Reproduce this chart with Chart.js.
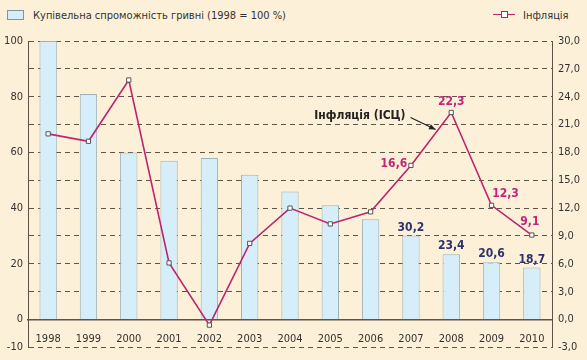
<!DOCTYPE html>
<html>
<head>
<meta charset="utf-8">
<script src="https://cdn.jsdelivr.net/npm/chart.js@4.4.1/dist/chart.umd.min.js"></script>
<style>
  body { margin: 0; background: #fdf0d8; }
  #wrap { position: relative; width: 587px; height: 360px; background: #fdf0d8; font-family: 'Liberation Sans Narrow', 'DejaVu Sans Condensed', sans-serif; color: #333; }
  .leg { position: absolute; top: 9px; font-size: 11px; line-height: 14px; white-space: nowrap; }
  .box { display: inline-block; width: 15px; height: 8px; background: #d5eef9; border: 1px solid #7d95a0; vertical-align: -1px; margin-right: 9px; }
  .ln { display: inline-block; position: relative; width: 22px; height: 1px; background: #c0246c; vertical-align: 4px; margin-right: 8px; }
  .ln i { position: absolute; left: 8px; top: -3px; width: 5px; height: 5px; background: #fff; border: 1px solid #555; }
  canvas { position: absolute; left: 0; top: 0; }
</style>
</head>
<body>
<div id="wrap">
  <div class="leg" style="left:7px"><span class="box"></span>Купівельна спроможність гривні (1998 = 100 %)</div>
  <div class="leg" style="left:493px"><span class="ln"><i></i></span>Інфляція</div>
  <canvas id="c" width="587" height="360"></canvas>
</div>
<script>
// data
const years = ['1998', '1999', '2000', '2001', '2002', '2003', '2004', '2005', '2006', '2007', '2008', '2009', '2010'];
const purchasingPower = [100, 81, 60, 57, 58, 52, 46, 41, 36, 30.2, 23.4, 20.6, 18.7];
const inflation = [20.0, 19.2, 25.8, 6.1, -0.6, 8.2, 12.0, 10.3, 11.6, 16.6, 22.3, 12.3, 9.1];
const labelledFrom = 9; // values printed for 2007-2010
const leftTicks = [-10, 0, 20, 40, 60, 80, 100];

const FONT = "'Liberation Sans Narrow', 'DejaVu Sans Condensed', sans-serif";
const comma = v => v.toFixed(1).replace('.', ',');

// label offsets for the inflation values (dx, dy from the point)
const inflOffsets = [[-17, -2], [0, -11], [14, -11], [-2, -13]];

const valueLabels = {
  id: 'valueLabels',
  afterDatasetsDraw(chart) {
    const c = chart.ctx;
    const lineMeta = chart.getDatasetMeta(0);
    const barMeta = chart.getDatasetMeta(1);
    c.save();
    c.font = 'bold 12px ' + FONT;
    c.textAlign = 'center';
    c.textBaseline = 'middle';
    for (let i = labelledFrom; i < years.length; i++) {
      const b = barMeta.data[i];
      c.fillStyle = '#2e3170';
      c.fillText(comma(purchasingPower[i]), b.x, b.y - 8);
      const p = lineMeta.data[i];
      const o = inflOffsets[i - labelledFrom];
      c.fillStyle = '#c4237a';
      c.fillText(comma(inflation[i]), p.x + o[0], p.y + o[1]);
    }
    // annotation with arrow pointing to the line between 2007 and 2008
    const a = lineMeta.data[9], b = lineMeta.data[10];
    const tx = a.x + (b.x - a.x) * 0.66 - 2, ty = a.y + (b.y - a.y) * 0.66 - 1;
    const sx = tx - 25, sy = ty - 12;
    c.strokeStyle = '#222';
    c.fillStyle = '#222';
    c.lineWidth = 1.2;
    c.beginPath(); c.moveTo(sx, sy); c.lineTo(tx, ty); c.stroke();
    const ang = Math.atan2(ty - sy, tx - sx);
    c.beginPath();
    c.moveTo(tx, ty);
    c.lineTo(tx - 7 * Math.cos(ang - 0.4), ty - 7 * Math.sin(ang - 0.4));
    c.lineTo(tx - 7 * Math.cos(ang + 0.4), ty - 7 * Math.sin(ang + 0.4));
    c.closePath(); c.fill();
    c.font = 'bold 12px ' + FONT;
    c.textAlign = 'right';
    c.fillText('Інфляція (ІСЦ)', sx - 5, sy - 2);
    c.restore();
  }
};

const gridColor = '#5e5446';

new Chart(document.getElementById('c'), {
  data: {
    labels: years,
    datasets: [{
      type: 'line',
      label: 'Інфляція',
      data: inflation,
      yAxisID: 'y2',
      borderColor: '#bd246e',
      borderWidth: 1.6,
      pointStyle: 'rect',
      pointRadius: 3,
      pointBackgroundColor: '#fff',
      pointBorderColor: '#555',
      pointBorderWidth: 1,
      order: 0
    }, {
      type: 'bar',
      label: 'Купівельна спроможність гривні (1998 = 100 %)',
      data: purchasingPower,
      yAxisID: 'y',
      backgroundColor: '#d5eef9',
      borderColor: '#9db2ba',
      borderWidth: 1,
      barPercentage: 0.43,
      categoryPercentage: 1,
      order: 1
    }]
  },
  options: {
    responsive: false,
    animation: false,
    layout: { padding: { top: 41, bottom: 8 } },
    plugins: {
      legend: { display: false },
      tooltip: { enabled: false }
    },
    scales: {
      x: {
        position: { y: 0 },
        afterFit: s => { s.height = 0; },
        grid: { display: false },
        border: { display: true, color: gridColor, width: 1.5 },
        ticks: { color: '#333', font: { family: FONT, size: 11 }, padding: 5, maxRotation: 0 }
      },
      y: {
        position: 'left',
        min: -10,
        max: 100,
        afterFit: s => { s.width = 28; },
        ticks: {
          stepSize: 10,
          color: '#333',
          padding: 5,
          font: { family: FONT, size: 11 },
          callback: v => leftTicks.includes(v) ? v : ''
        },
        grid: { color: gridColor, drawTicks: false, lineWidth: 1 },
        border: { display: true, color: gridColor, dash: [5, 4], width: 1 }
      },
      y2: {
        position: 'right',
        min: -3,
        max: 30,
        afterFit: s => { s.width = 35; },
        ticks: {
          stepSize: 3,
          color: '#333',
          padding: 6,
          font: { family: FONT, size: 11 },
          callback: v => comma(v)
        },
        grid: { display: false, drawTicks: false },
        border: { display: true, color: gridColor, width: 1 }
      }
    }
  },
  plugins: [valueLabels]
});
</script>
</body>
</html>
